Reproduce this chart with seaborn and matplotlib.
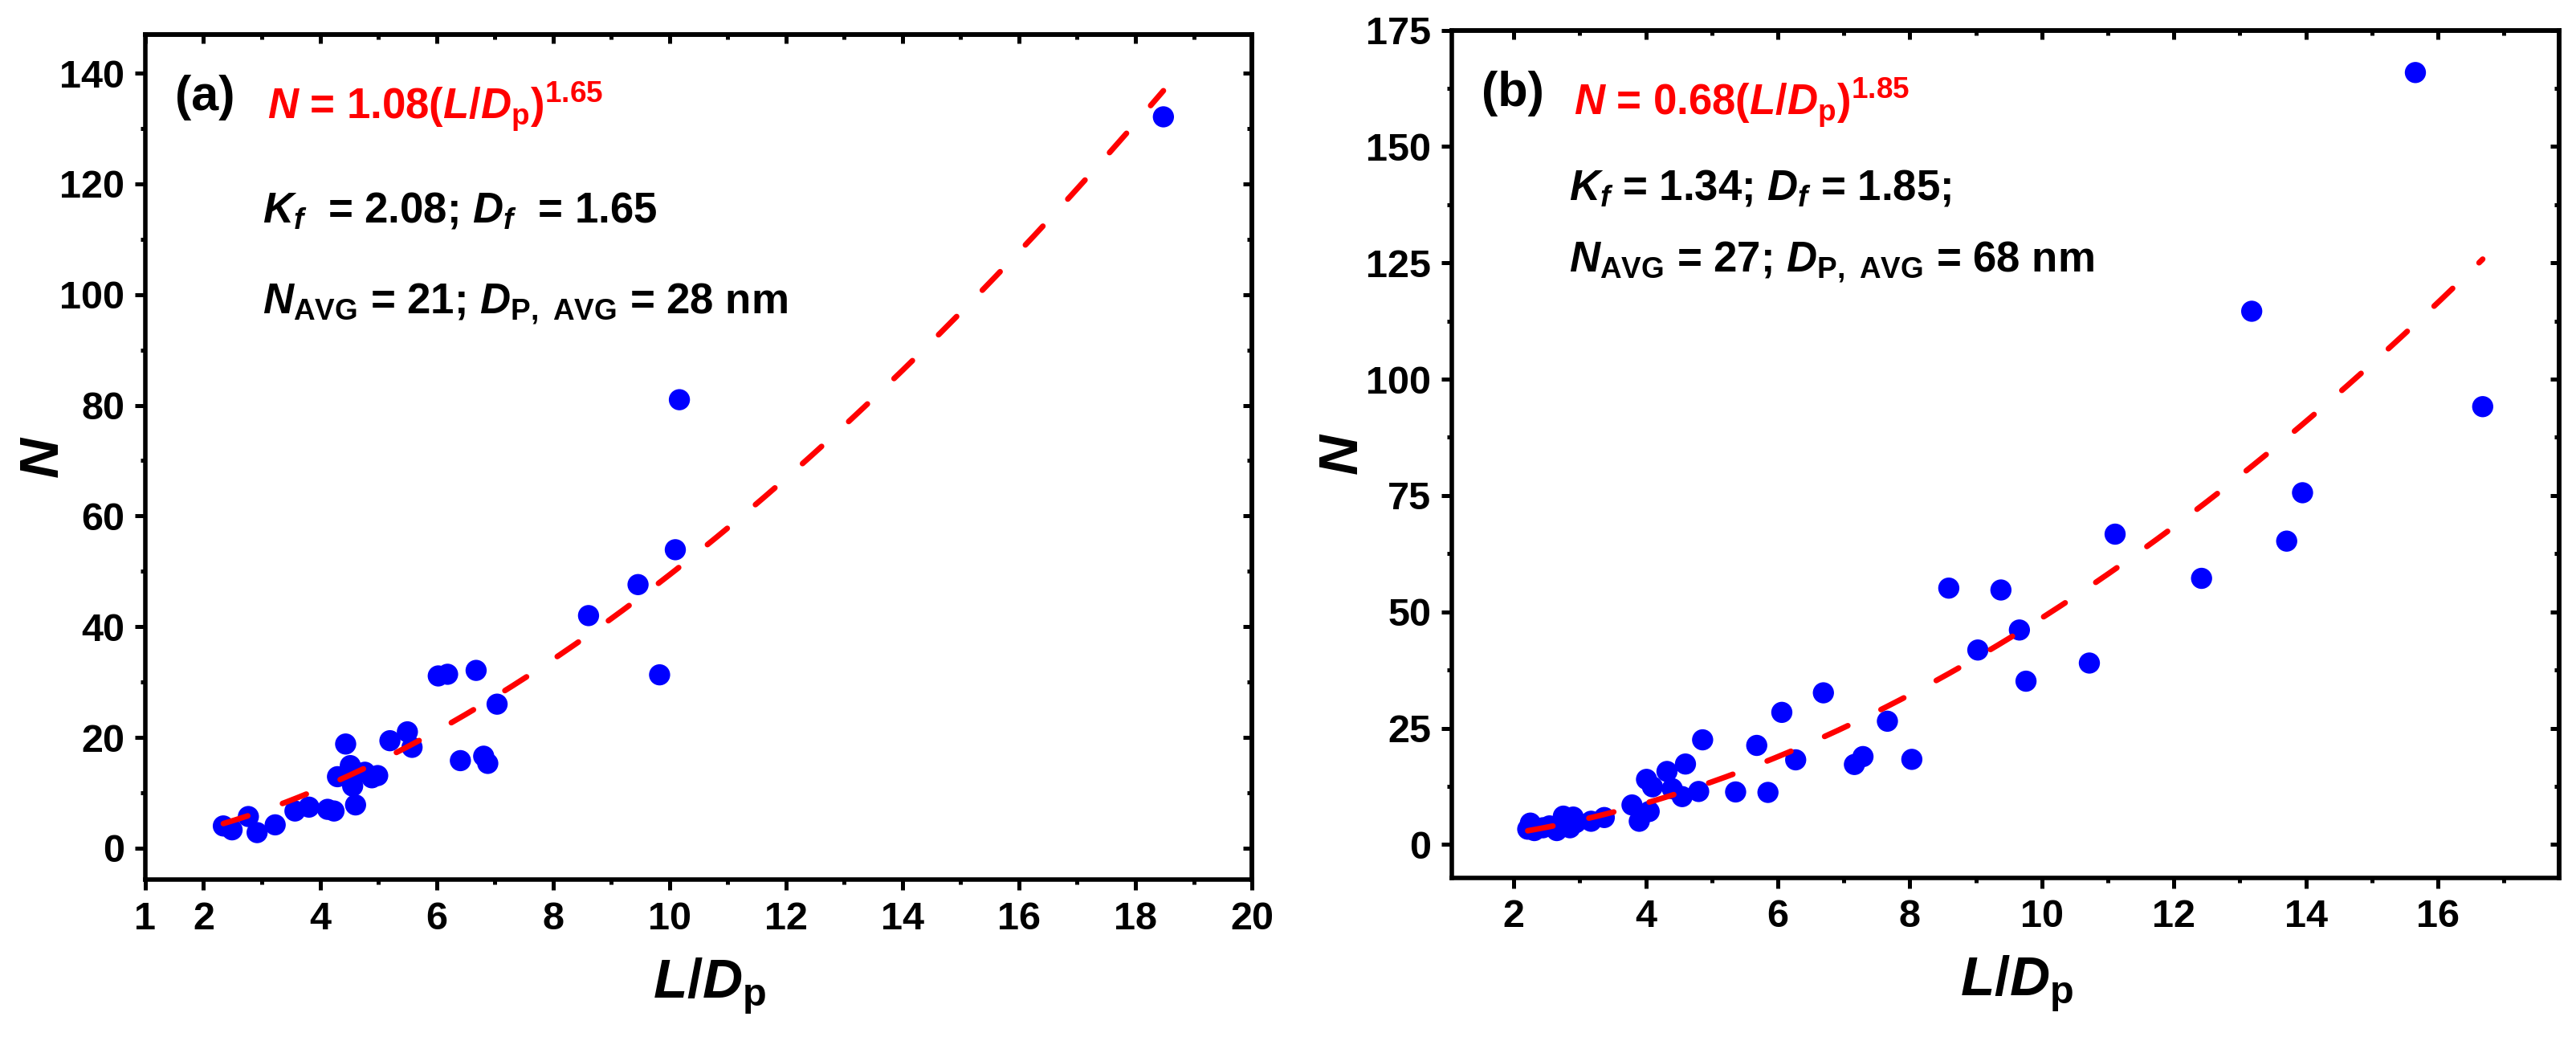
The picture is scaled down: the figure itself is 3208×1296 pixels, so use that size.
import numpy as np
import pandas as pd
import matplotlib
matplotlib.use("Agg")
import matplotlib.pyplot as plt
import seaborn as sns
from matplotlib.ticker import MultipleLocator, FixedLocator

# panel (a)
a_ratio = [2.34, 2.49, 2.77, 2.92, 3.23, 3.57, 3.81, 4.13, 4.24, 4.30, 4.44, 4.52, 4.56, 4.61, 4.77,
           4.89, 4.99, 5.20, 5.50, 5.58, 6.03, 6.19, 6.41, 6.68, 6.81, 6.88, 7.04, 8.61, 9.46, 9.83,
           10.10, 10.17, 18.48]
a_n = [4.0, 3.3, 5.7, 2.8, 4.2, 6.7, 7.4, 7.0, 6.7, 12.9, 18.8, 14.9, 11.2, 7.8, 13.7,
       12.7, 13.1, 19.4, 21.0, 18.2, 31.1, 31.4, 15.8, 32.1, 16.6, 15.3, 26.0, 42.0, 47.6, 31.3,
       53.9, 81.0, 132.1]
# fit curve as drawn (label rounds the exponent)
a_fit = (1.08, 1.66)

# panel (b)
b_ratio = [2.21, 2.25, 2.31, 2.44, 2.54, 2.65, 2.75, 2.85, 2.90, 2.94, 3.17, 3.37, 3.79, 3.90, 4.01,
           4.05, 4.10, 4.32, 4.40, 4.55, 4.60, 4.80, 4.86, 5.36, 5.68, 5.85, 6.06, 6.27, 6.69, 7.16,
           7.29, 7.66, 8.03, 8.59, 9.03, 9.38, 9.66, 9.76, 10.72, 11.11, 12.42, 13.18, 13.71, 13.95, 15.66,
           16.68]
b_n = [3.3, 4.6, 3.0, 3.6, 4.0, 3.0, 6.1, 3.6, 5.9, 4.7, 5.0, 5.8, 8.5, 5.0, 14.0,
       7.1, 12.4, 15.7, 12.0, 10.3, 17.3, 11.4, 22.5, 11.3, 21.3, 11.2, 28.4, 18.2, 32.6, 17.2,
       18.9, 26.5, 18.3, 55.1, 41.8, 54.7, 46.1, 35.1, 39.0, 66.7, 57.2, 114.6, 65.2, 75.6, 165.9,
       94.1]
b_fit = (0.68, 1.855)

a_text = ["(a)", r"$N$ = 1.08($L/D_{\rm p}$)$^{1.65}$",
          r"$K_f$  = 2.08; $D_f$  = 1.65",
          r"$N_{\rm AVG}$ = 21; $D_{\rm P,\ AVG}$ = 28 nm"]
b_text = ["(b)", r"$N$ = 0.68($L/D_{\rm p}$)$^{1.85}$",
          r"$K_f$ = 1.34; $D_f$ = 1.85;",
          r"$N_{\rm AVG}$ = 27; $D_{\rm P,\ AVG}$ = 68 nm"]

sns.set_style("ticks")
plt.rcParams["font.family"] = ["Liberation Sans", "DejaVu Sans"]
plt.rcParams["font.weight"] = "bold"
plt.rcParams["axes.labelweight"] = "bold"
plt.rcParams["text.color"] = "black"
plt.rcParams["axes.labelcolor"] = "black"
plt.rcParams["axes.edgecolor"] = "black"
plt.rcParams["xtick.color"] = "black"
plt.rcParams["ytick.color"] = "black"
plt.rcParams["mathtext.fontset"] = "custom"
plt.rcParams["mathtext.rm"] = "Liberation Sans:bold"
plt.rcParams["mathtext.bf"] = "Liberation Sans:bold"
plt.rcParams["mathtext.it"] = "Liberation Sans:italic:bold"
plt.rcParams["mathtext.sf"] = "Liberation Sans:bold"


def panel(ax, x, y, fit, texts, xlim, ylim, xticks, yticks, ymin_step, ylab_x, text_y):
    df = pd.DataFrame({"x": x, "y": y})
    sns.scatterplot(data=df, x="x", y="y", ax=ax, color="#0000ff", s=90,
                    edgecolor="none", zorder=2)
    fx = np.linspace(min(x), max(x), 300)
    curve = pd.DataFrame({"x": fx, "y": fit[0] * fx ** fit[1]})
    sns.lineplot(data=curve, x="x", y="y", ax=ax, color="#ff0000", lw=2.5,
                 zorder=3)
    ln = ax.lines[-1]
    ln.set_dashes((4.6, 6.6))
    ln.set_dash_capstyle("round")

    ax.set_xlim(*xlim)
    ax.set_ylim(*ylim)
    ax.set_xticks(xticks)
    ax.xaxis.set_minor_locator(FixedLocator(np.arange(3, 20, 2)))
    ax.set_yticks(yticks)
    ax.yaxis.set_minor_locator(MultipleLocator(ymin_step))
    ax.tick_params(which="major", direction="out", length=4.8, width=1.8,
                   labelsize=17.5, pad=4.5)
    ax.tick_params(which="minor", direction="out", length=2.2, width=1.8)
    ax.tick_params(axis="x", which="major", pad=4.8)
    for sp in ax.spines.values():
        sp.set_visible(True)
        sp.set_linewidth(2.0)

    # mirrored inward ticks on top and right
    minor_x = FixedLocator(np.arange(3, 20, 2))
    top = ax.secondary_xaxis("top")
    top.set_xticks(xticks)
    top.xaxis.set_minor_locator(minor_x)
    top.tick_params(which="both", direction="in", labeltop=False, width=1.8)
    top.tick_params(which="major", length=4)
    top.tick_params(which="minor", length=2.2)
    top.spines["top"].set_linewidth(2.0)
    right = ax.secondary_yaxis("right")
    right.set_yticks(yticks)
    right.yaxis.set_minor_locator(MultipleLocator(ymin_step))
    right.tick_params(which="both", direction="in", labelright=False, width=1.8)
    right.tick_params(which="major", length=4)
    right.tick_params(which="minor", length=2.2)
    right.spines["right"].set_linewidth(2.0)

    ax.set_xlabel(r"$L/D_{\rm p}$", fontsize=25)
    ax.set_ylabel(r"$N$", fontsize=25)
    ax.xaxis.set_label_coords(0.51, -0.09)
    ax.yaxis.set_label_coords(ylab_x, 0.5)

    ax.text(0.027, 0.925, texts[0], transform=ax.transAxes, fontsize=22,
            va="center", ha="left")
    ax.text(0.11, 0.90, texts[1], transform=ax.transAxes, fontsize=19,
            color="#ff0000", va="baseline", ha="left")
    ax.text(0.106, text_y[0], texts[2], transform=ax.transAxes, fontsize=19,
            va="baseline", ha="left")
    ax.text(0.106, text_y[1], texts[3], transform=ax.transAxes, fontsize=19,
            va="baseline", ha="left")


fig = plt.figure(figsize=(16.04, 6.48), dpi=200)
ax1 = fig.add_axes([0.0564, 0.155, 0.4296, 0.812])
ax2 = fig.add_axes([0.5636, 0.157, 0.4299, 0.814])

panel(ax1, a_ratio, a_n, a_fit, a_text, (1, 20), (-5.7, 147),
      [1, 2, 4, 6, 8, 10, 12, 14, 16, 18, 20], np.arange(0, 141, 20), 10, -0.068,
      (0.778, 0.67))
panel(ax2, b_ratio, b_n, b_fit, b_text, (1.06, 17.84), (-7.1, 175),
      np.arange(2, 17, 2), np.arange(0, 176, 25), 12.5, -0.075,
      (0.80, 0.715))

fig.savefig("out.png", dpi=200, facecolor="white")
